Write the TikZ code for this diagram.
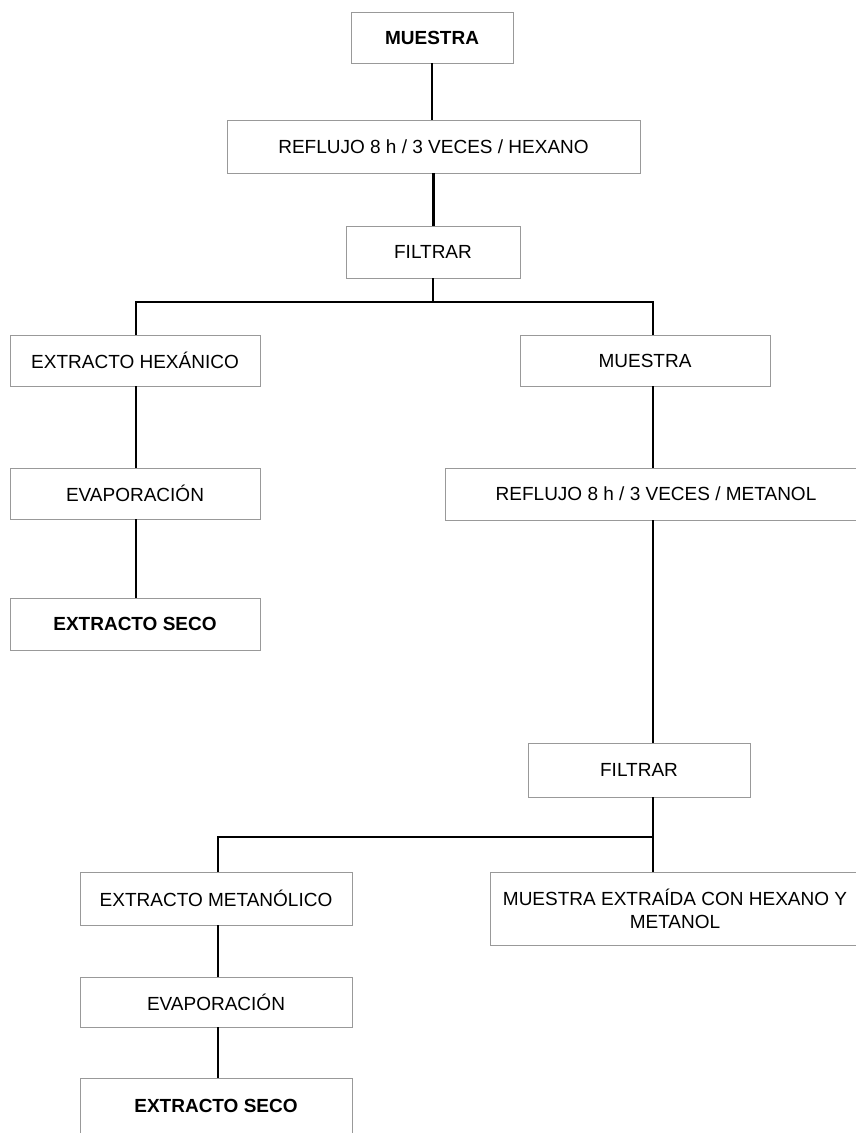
\documentclass[tikz,border=0pt]{standalone}
\usepackage{fontspec}
\setmainfont{Liberation Sans}
\begin{document}
\begin{tikzpicture}[x=1pt,y=-1pt,
  box/.style={draw=black!40, line width=0.8pt, inner sep=0pt, align=center,
    font=\fontsize{19}{23}\selectfont},
  boldbox/.style={box, font=\fontsize{19}{23}\selectfont\bfseries},
  conn/.style={draw=black, line width=2.3pt}]
\useasboundingbox[fill=white] (0,0) rectangle (856,1133);
% boxes
\node[boldbox, minimum width=162pt, minimum height=51pt] (m1) at (432,37.5) {MUESTRA};
\node[box, minimum width=413pt, minimum height=53pt] (r1) at (433.5,146.5) {REFLUJO 8 h / 3 VECES / HEXANO};
\node[box, minimum width=174pt, minimum height=52pt] (f1) at (433,252) {FILTRAR};
\node[box, minimum width=250pt, minimum height=51pt] (eh) at (135,360.5) {EXTRACTO HEXÁNICO};
\node[box, minimum width=250pt, minimum height=51pt] (m2) at (645,360.5) {MUESTRA};
\node[box, minimum width=250pt, minimum height=51pt] (ev1) at (135,493.5) {EVAPORACIÓN};
\node[box, minimum width=422pt, minimum height=52pt] (r2) at (656,494) {REFLUJO 8 h / 3 VECES / METANOL};
\node[boldbox, minimum width=250pt, minimum height=52pt] (s1) at (135,624) {EXTRACTO SECO};
\node[box, minimum width=222pt, minimum height=54pt] (f2) at (639,770) {FILTRAR};
\node[box, minimum width=272pt, minimum height=53pt] (em) at (216,898.5) {EXTRACTO METANÓLICO};
\node[box, minimum width=370pt, minimum height=73pt] (mx) at (675,908.5) {MUESTRA EXTRAÍDA CON HEXANO Y\\METANOL};
\node[box, minimum width=272pt, minimum height=50pt] (ev2) at (216,1002) {EVAPORACIÓN};
\node[boldbox, minimum width=272pt, minimum height=56pt] (s2) at (216,1106) {EXTRACTO SECO};
% junctions
\coordinate (jL) at (136,302);
\coordinate (jR) at (653,302);
\coordinate (jL2) at (218,837);
\coordinate (jR2) at (653,837);
% connectors
\draw[conn] (m1.south) -- (m1.south |- r1.north);
\draw[conn] (r1.south) -- (r1.south |- f1.north);
\draw[conn] (f1.south) -- (f1.south |- jL);
\draw[conn] (jL |- eh.north) -- (jL) -- (jR) -- (jR |- m2.north);
\draw[conn] (jL |- eh.south) -- (jL |- ev1.north);
\draw[conn] (jL |- ev1.south) -- (jL |- s1.north);
\draw[conn] (jR |- m2.south) -- (jR |- r2.north);
\draw[conn] (jR |- r2.south) -- (jR |- f2.north);
\draw[conn] (jR |- f2.south) -- (jR2) -- (jL2) -- (jL2 |- em.north);
\draw[conn] (jR2) -- (jR2 |- mx.north);
\draw[conn] (jL2 |- em.south) -- (jL2 |- ev2.north);
\draw[conn] (jL2 |- ev2.south) -- (jL2 |- s2.north);
\end{tikzpicture}
\end{document}
